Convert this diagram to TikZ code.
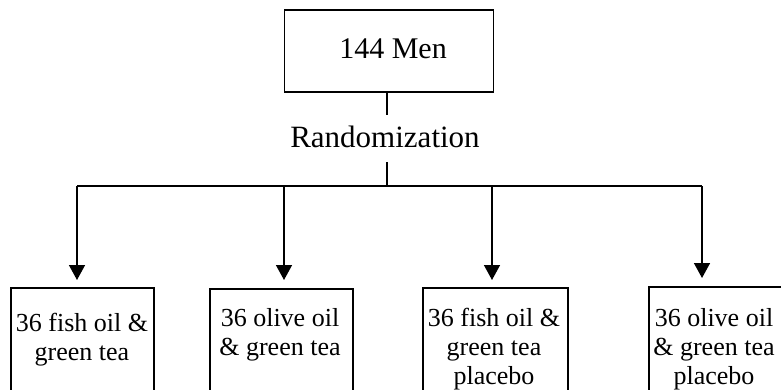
\documentclass[tikz,border=0pt]{standalone}
\usepackage{fontspec}
\setmainfont{Liberation Serif}
\usetikzlibrary{arrows.meta}
\begin{document}
\begin{tikzpicture}[x=1pt,y=-1pt,
  line/.style={draw=black,line width=1.5pt},
  arr/.style={line,-{Triangle[width=16pt,length=15pt]}},
  topbox/.style={line,minimum width=209pt,minimum height=82pt,inner sep=0pt},
  grpbox/.style={line,minimum height=120pt,anchor=north,inner sep=0pt},
  toptext/.style={font=\fontsize{30}{34}\selectfont,inner sep=0pt},
  grptext/.style={font=\fontsize{26}{29}\selectfont,align=center,inner sep=0pt}]
\useasboundingbox (0,0) rectangle (781,389);
\clip (0,0) rectangle (781,389);
\fill[white] (0,0) rectangle (781,389);
% top box
\node[topbox] (men) at (389,51) {};
\node[toptext] (mentext) at (393,49) {144 Men};
\node[toptext,font=\fontsize{31}{34}\selectfont] (rand) at (385,137) {Randomization};
% branch coordinates
\coordinate (r1) at (387,115);
\coordinate (r2) at (387,162);
\coordinate (hc) at (387,186);
\coordinate (h1) at (77,186);
\coordinate (h2) at (284,186);
\coordinate (h3) at (492,186);
\coordinate (h4) at (702,186);
\coordinate (t1) at (77,280);
\coordinate (t2) at (284,280);
\coordinate (t3) at (492,280);
\coordinate (t4) at (702,278);
\draw[line] (men.south -| r1) -- (r1);
\draw[line] (r2) -- (hc);
\draw[line] (h1) -- (h4);
\draw[arr] (h1) -- (t1);
\draw[arr] (h2) -- (t2);
\draw[arr] (h3) -- (t3);
\draw[arr] (h4) -- (t4);
% group boxes
\node[grpbox,minimum width=143pt] (g1) at (82.5,287) {};
\node[grpbox,minimum width=143pt] (g2) at (281.5,288) {};
\node[grpbox,minimum width=145pt] (g3) at (495.5,287) {};
\node[grpbox,minimum width=140pt] (g4) at (719,286) {};
\node[grptext] (g1t) at (82,340) {36 fish oil \&\\green tea};
\node[grptext] (g2t) at (280,335) {36 olive oil\\\& green tea};
\node[grptext] (g3t) at (494,349) {36 fish oil \&\\green tea\\placebo};
\node[grptext] (g4t) at (714,349) {36 olive oil\\\& green tea\\placebo};
\end{tikzpicture}
\end{document}
